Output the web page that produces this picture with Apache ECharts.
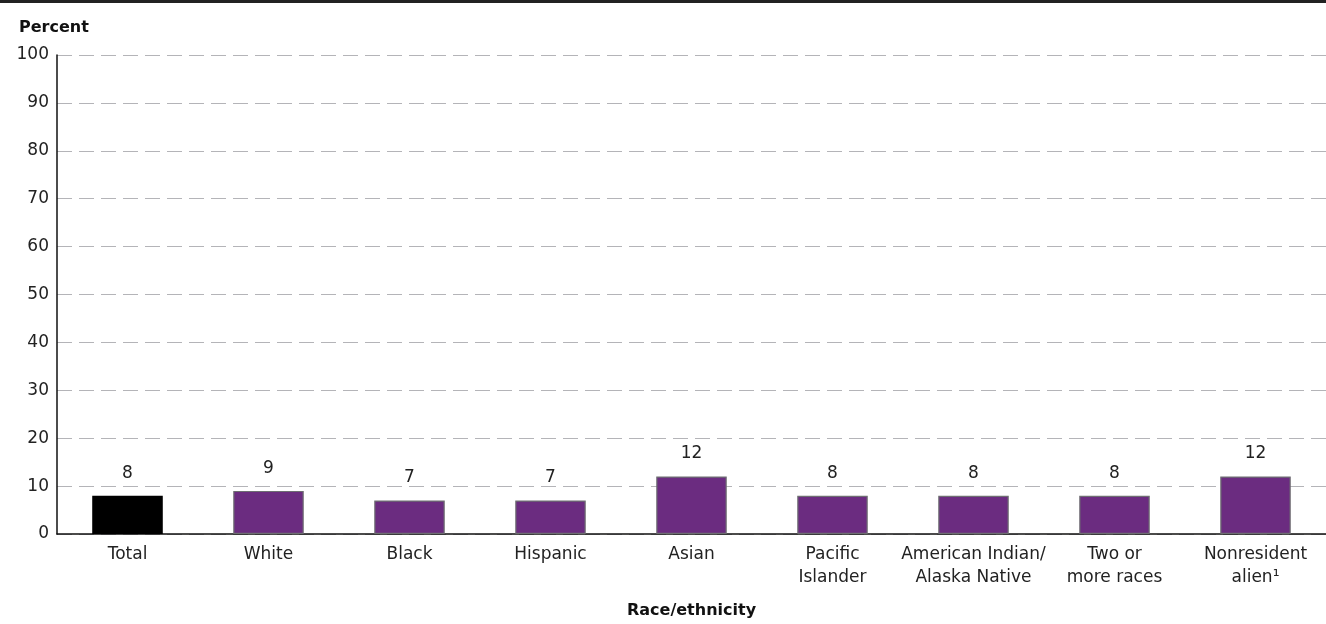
<!DOCTYPE html>
<html><head><meta charset="utf-8">
<script src="https://cdn.jsdelivr.net/npm/echarts@6/dist/echarts.min.js"></script>
<style>html,body{margin:0;padding:0;background:#fff}#c{width:1326px;height:624px}</style>
</head><body><div id="c"></div>
<script>
const categories = ['Total','White','Black','Hispanic','Asian','Pacific\nIslander','American Indian/\nAlaska Native','Two or\nmore races','Nonresident\nalien¹'];
const values = [8,9,7,7,12,8,8,8,12];
const yTicks = [0,10,20,30,40,50,60,70,80,90,100];
const FONT = 'DejaVu Sans';
const chart = echarts.init(document.getElementById('c'));
chart.setOption({
  animation:false,
  textStyle:{fontFamily:FONT},
  graphic:[{type:'rect',left:0,top:0,shape:{width:1326,height:3},style:{fill:'#222'}}],
  title:{text:'Percent',left:14,top:15,textStyle:{fontFamily:FONT,fontSize:16,fontWeight:'bold',color:'#111'}},
  grid:{left:57,right:0,top:55,bottom:89,containLabel:false},
  xAxis:{type:'category',data:categories,name:'Race/ethnicity',nameLocation:'middle',nameGap:69,
    nameTextStyle:{fontFamily:FONT,fontSize:16,fontWeight:'bold',color:'#111'},
    axisLine:{lineStyle:{color:'#111',width:1.5}},axisTick:{show:false},
    axisLabel:{interval:0,fontFamily:FONT,fontSize:17,color:'#222',lineHeight:23,margin:9}},
  yAxis:{type:'value',min:yTicks[0],max:yTicks[yTicks.length-1],interval:10,
    axisLine:{show:true,lineStyle:{color:'#111',width:1.5}},axisTick:{show:false},
    axisLabel:{fontFamily:FONT,fontSize:17,color:'#222',margin:8},
    splitLine:{lineStyle:{color:'#b4b4b8',type:[15,7],dashOffset:0,width:1}}},
  series:[{type:'bar',barWidth:'50%',
    data:values.map((v,i)=>({value:v,itemStyle:{color:i===0?'#000000':'#6b2c80',borderColor:i===0?'#000':'#6e6e72',borderWidth:1.2}})),
    label:{show:true,position:'top',distance:14,fontFamily:FONT,fontSize:17,color:'#222'}}]
});
</script></body></html>
